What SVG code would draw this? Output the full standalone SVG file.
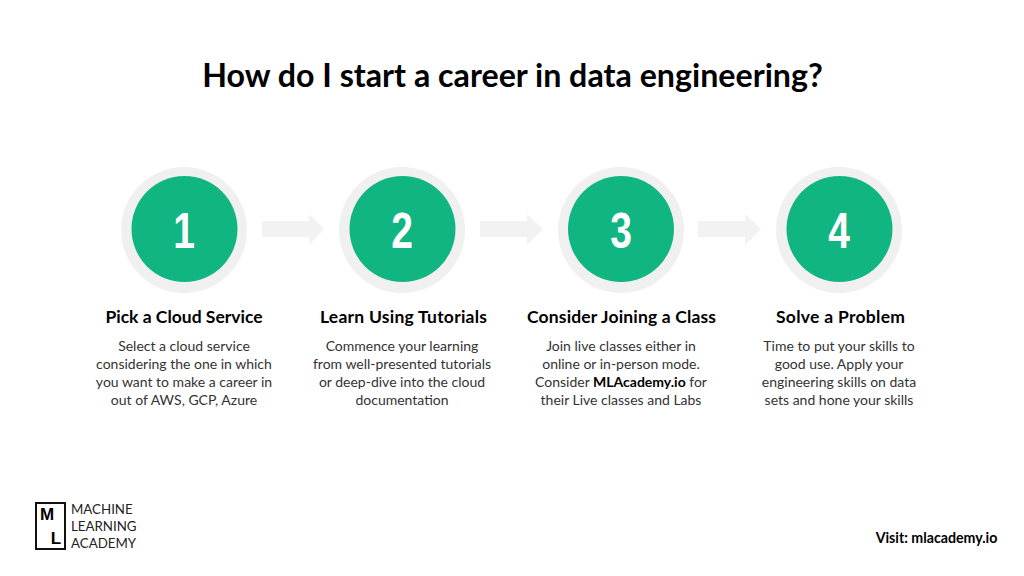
<svg xmlns="http://www.w3.org/2000/svg" width="1024" height="576" viewBox="0 0 1024 576">
<style>
text{font-family:"Lato","Open Sans",sans-serif;fill:#000;text-anchor:middle}
.title{font-size:32.2px;font-weight:700}
.h{font-size:17.5px;font-weight:700}
.b{font-size:14px;fill:#333}
.b tspan{font-weight:700;fill:#000}
.n{font-family:"Liberation Sans",sans-serif;font-size:50px;font-weight:700;fill:#fff}
.halo{fill:#f0f0f0}
.disc{fill:#10b582}
.arr{fill:#f2f2f2}
.logo{font-size:13.3px;text-anchor:start;fill:#222}
.lm{font-family:"Liberation Sans",sans-serif;font-size:17px;font-weight:700}
</style>
<rect width="1024" height="576" fill="#fff"/>
<text class="title" x="512.500" y="87">How do I start a career in data engineering?</text>
<g id="connectors">
<polygon class="arr" points="262,221 309,221 309,214 324,229 309,245 309,237 262,237"/>
<polygon class="arr" points="480,221 527,221 527,214 543,229 527,245 527,237 480,237"/>
<polygon class="arr" points="698,221 745,221 745,214 761,229 745,245 745,237 698,237"/>
</g>
<g id="node1"><circle class="halo" cx="184" cy="230" r="63"/><circle class="disc" cx="184.500" cy="229" r="53"/><text class="n" transform="translate(184 248) scale(.78 1)">1</text>
<text class="h" x="184" y="323">Pick a Cloud Service</text>
<text class="b" x="184" y="351">Select a cloud service</text><text class="b" x="184" y="369">considering the one in which</text><text class="b" x="184" y="387">you want to make a career in</text><text class="b" x="184" y="405">out of AWS, GCP, Azure</text></g>
<g id="node2"><circle class="halo" cx="402" cy="230" r="63"/><circle class="disc" cx="402.500" cy="229" r="53"/><text class="n" transform="translate(402 248) scale(.78 1)">2</text>
<text class="h" x="403.500" y="323" textLength="167">Learn Using Tutorials</text>
<text class="b" x="402" y="351">Commence your learning</text><text class="b" x="402" y="369">from well-presented tutorials</text><text class="b" x="402" y="387">or deep-dive into the cloud</text><text class="b" x="402" y="405">documentation</text></g>
<g id="node3"><circle class="halo" cx="621" cy="230" r="63"/><circle class="disc" cx="621" cy="229" r="53"/><text class="n" transform="translate(621 248) scale(.78 1)">3</text>
<text class="h" x="621.500" y="323" textLength="189">Consider Joining a Class</text>
<text class="b" x="621" y="351">Join live classes either in</text><text class="b" x="621" y="369">online or in-person mode.</text><text class="b" x="621" y="387">Consider <tspan>MLAcademy.io</tspan> for</text><text class="b" x="621" y="405">their Live classes and Labs</text></g>
<g id="node4"><circle class="halo" cx="839" cy="230" r="63"/><circle class="disc" cx="839.500" cy="229" r="53"/><text class="n" transform="translate(839 248) scale(.78 1)">4</text>
<text class="h" x="840.500" y="323" textLength="129">Solve a Problem</text>
<text class="b" x="839" y="351">Time to put your skills to</text><text class="b" x="839" y="369">good use. Apply your</text><text class="b" x="839" y="387">engineering skills on data</text><text class="b" x="839" y="405">sets and hone your skills</text></g>
<g id="logo"><rect x="36" y="503" width="29" height="46" fill="none" stroke="#111" stroke-width="2"/>
<text class="lm" x="47" y="520">M</text><text class="lm" x="56" y="544">L</text>
<text class="logo" x="71" y="514">MACHINE</text><text class="logo" x="71" y="531">LEARNING</text><text class="logo" x="71" y="548">ACADEMY</text></g>
<text x="936.500" y="543" font-size="14.200" font-weight="700">Visit: mlacademy.io</text>
</svg>
